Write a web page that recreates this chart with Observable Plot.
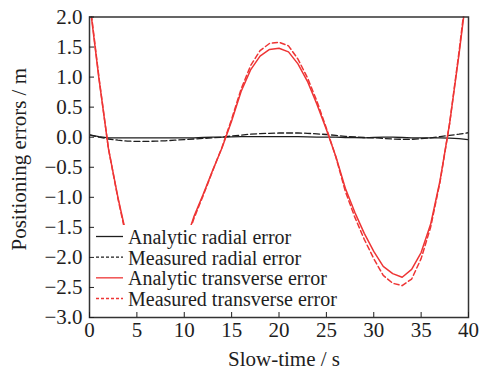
<!DOCTYPE html>
<html><head><meta charset="utf-8">
<script src="https://cdn.jsdelivr.net/npm/d3@7"></script>
<script src="https://cdn.jsdelivr.net/npm/@observablehq/plot@0.6"></script>
<style>body{margin:0;background:#fff} #chart{width:482px;height:375px}</style>
</head><body><div id="chart"></div>
<script>
const time = [0,1,2,3,4,5,6,7,8,9,10,11,12,13,14,15,16,17,18,19,20,21,22,23,24,25,26,27,28,29,30,31,32,33,34,35,36,37,38,39,40];
const analyticRadial = [0.04,0.01,-0.01,-0.01,-0.01,-0.01,-0.01,-0.01,-0.01,-0.01,-0.01,-0.01,-0.005,0,0,0.005,0.01,0.01,0.01,0.01,0.01,0.01,0.01,0.005,0,0,0,-0.005,-0.005,-0.01,-0.005,0,0,-0.005,-0.01,-0.01,-0.01,-0.01,-0.015,-0.025,-0.04];
const measuredRadial = [0.04,0,-0.03,-0.05,-0.065,-0.07,-0.07,-0.065,-0.06,-0.05,-0.04,-0.03,-0.02,-0.01,0,0.02,0.035,0.05,0.06,0.065,0.07,0.07,0.07,0.065,0.055,0.045,0.03,0.015,0.005,-0.005,-0.01,-0.02,-0.03,-0.035,-0.035,-0.025,-0.01,0.01,0.03,0.05,0.075];
const analyticTransverse = [2.26,0.97,-0.19,-1.0,-1.71,-2.25,-2.55,-2.62,-2.5,-2.25,-1.8,-1.33,-0.95,-0.55,-0.17,0.27,0.76,1.12,1.35,1.46,1.48,1.42,1.22,0.93,0.55,0.13,-0.32,-0.85,-1.25,-1.6,-1.9,-2.15,-2.27,-2.33,-2.2,-1.92,-1.45,-0.72,0.22,1.38,2.65];
const measuredTransverse = [2.3,0.99,-0.19,-1.02,-1.75,-2.3,-2.62,-2.7,-2.58,-2.32,-1.86,-1.36,-0.97,-0.56,-0.16,0.3,0.8,1.19,1.44,1.56,1.58,1.52,1.3,0.99,0.6,0.15,-0.33,-0.9,-1.33,-1.7,-2.02,-2.3,-2.43,-2.47,-2.36,-2.02,-1.5,-0.74,0.22,1.42,2.72];

const seriesNames = ["Analytic radial error","Measured radial error","Analytic transverse error","Measured transverse error"];
const seriesValues = [analyticRadial, measuredRadial, analyticTransverse, measuredTransverse];
const seriesColors = ["#1e1e1e","#1e1e1e","#ee3535","#ee3535"];
const seriesDash = [null,"6,3",null,"5,3"];
const legendDash = [null,"3,2",null,"3,2"];
const xTicks = [0,5,10,15,20,25,30,35,40];
const yTicks = [2,1.5,1,0.5,0,-0.5,-1,-1.5,-2,-2.5,-3];
const xTitle = "Slow-time / s";
const yTitle = "Positioning errors / m";

const rows = [];
seriesValues.forEach((vals, s) => time.forEach((t, i) => rows.push({series: seriesNames[s], t, v: vals[i]})));

const font = "Liberation Serif, Times New Roman, serif";
const lineMarks = seriesNames.map((name, s) => Plot.line(rows.filter(d => d.series === name), {
  x: "t", y: "v", stroke: seriesColors[s], strokeWidth: s < 2 ? 1.3 : 1.5,
  strokeDasharray: seriesDash[s], clip: true
}));

const chart = Plot.plot({
  width: 482, height: 375,
  marginLeft: 89, marginRight: 14, marginTop: 16.5, marginBottom: 58,
  style: {fontFamily: font, fontSize: "21px", color: "#1e1e1e", background: "#fff"},
  x: {domain: [0, 40]},
  y: {domain: [-3, 2]},
  marks: [
    ...lineMarks,
    Plot.frame({stroke: "#333", strokeWidth: 1.5}),
    Plot.axisX({ticks: xTicks, tickSize: -5, tickPadding: 10, tickFormat: d => String(d), fontSize: 21, label: null}),
    Plot.axisY({ticks: yTicks, tickSize: -5, tickPadding: 12, tickFormat: d3.format(".1f"), fontSize: 21, label: null}),
    Plot.text([xTitle], {frameAnchor: "bottom", textAnchor: "middle", dx: 5, dy: 42, lineAnchor: "middle", fontSize: 21, text: d => d}),
    Plot.text([yTitle], {frameAnchor: "left", textAnchor: "middle", rotate: -90, dx: -70, dy: -8, lineAnchor: "middle", fontSize: 21, text: d => d})
  ]
});
document.getElementById("chart").appendChild(chart);

// legend drawn over the curves but below the frame/axes
const svg = d3.select(chart);
const lg = d3.create("svg:g").attr("font-family", font).attr("font-size", 20).attr("text-anchor", "start");
lg.append("rect").attr("x", 93).attr("y", 225).attr("width", 262).attr("height", 91).attr("fill", "#fff");
seriesNames.forEach((name, s) => {
  const base = 244 + s * 20.67;
  lg.append("line").attr("x1", 96).attr("x2", 123).attr("y1", base - 7.5).attr("y2", base - 7.5)
    .attr("stroke", seriesColors[s]).attr("stroke-width", 1.3)
    .attr("stroke-dasharray", legendDash[s]);
  lg.append("text").attr("x", 128).attr("y", base).attr("text-anchor", "start").attr("fill", "#1e1e1e").text(name);
});
const lineGroups = svg.selectAll('g[aria-label="line"]').nodes();
if (lineGroups.length) lineGroups[lineGroups.length - 1].after(lg.node());
else chart.appendChild(lg.node());
</script>
</body></html>
